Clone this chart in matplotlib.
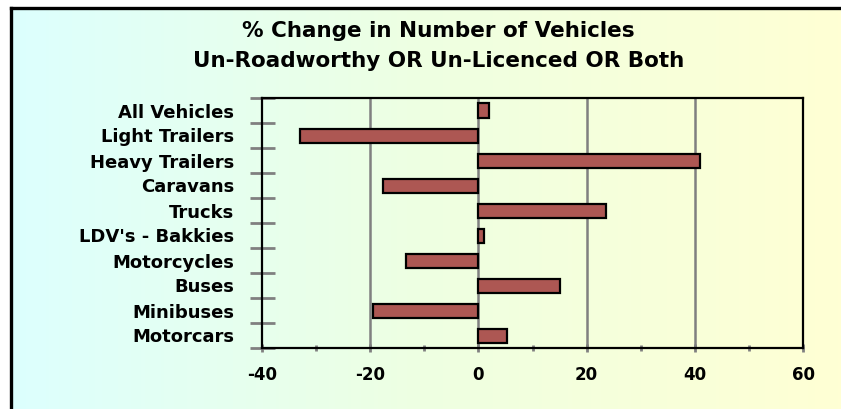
"""
% change in number of vehicles (un-roadworthy or un-licenced or both),
Excel-style horizontal bar chart on a cyan-to-yellow gradient.
"""

import matplotlib
matplotlib.use("Agg")
import matplotlib.pyplot as plt
import numpy as np
from matplotlib.colors import LinearSegmentedColormap
from matplotlib.lines import Line2D

categories = [
    "Motorcars", "Minibuses", "Buses", "Motorcycles", "LDV's - Bakkies",
    "Trucks", "Caravans", "Heavy Trailers", "Light Trailers", "All Vehicles",
]
pct_change = [5.3, -19.4, 15.1, -13.3, 1.0, 23.6, -17.6, 40.9, -32.9, 2.0]

x_ticks = [-40, -20, 0, 20, 40, 60]
x_minor = [-30, -10, 10, 30, 50]

TITLE = "% Change in Number of Vehicles\nUn-Roadworthy OR Un-Licenced OR Both"

C_BAR = "#ad5753"
C_GRID = "#808080"
FONT = "DejaVu Sans"


def main():
    plt.rcParams["font.family"] = [FONT]
    fig = plt.figure(figsize=(8.41, 4.09), dpi=100)

    # gradient background over the whole figure
    bg = fig.add_axes([0, 0, 1, 1], zorder=-10)
    cmap = LinearSegmentedColormap.from_list(
        "bg", ["#dcffff", "#eeffe2", "#ffffd4"])
    bg.imshow(np.linspace(0, 1, 256)[None, :], cmap=cmap, aspect="auto",
              extent=[0, 1, 0, 1])
    bg.set_xlim(0, 1)
    bg.set_ylim(0, 1)
    bg.axis("off")

    # white margin + black border on left and top (chart is cropped right/bottom)
    W, H = 841, 409
    bx, by = 10.5 / W, 1 - 7.5 / H
    bg.axvspan(0, bx, color="white", zorder=1)
    bg.axhspan(by, 1, color="white", zorder=1)
    fig.add_artist(Line2D([bx, bx], [0, by], color="black", lw=2.4,
                          transform=fig.transFigure))
    fig.add_artist(Line2D([bx, 1], [by, by], color="black", lw=2.4,
                          transform=fig.transFigure))

    ax = fig.add_axes([261.7 / W, 1 - 348 / H, (803.3 - 261.7) / W,
                       (348 - 98) / H])
    ax.set_facecolor("none")

    y = np.arange(len(categories))
    ax.barh(y, pct_change, height=0.56, color=C_BAR, edgecolor="black",
            linewidth=1.6, zorder=3)

    ax.set_xlim(-40, 60)
    ax.set_ylim(-0.5, len(categories) - 0.5)

    ax.set_xticks(x_ticks)
    ax.set_xticklabels([str(v) for v in x_ticks], fontsize=12,
                       fontweight="bold")
    ax.set_xticks(x_minor, minor=True)
    ax.set_yticks(y)
    ax.set_yticklabels(categories, fontsize=13, fontweight="bold")
    ax.set_yticks(np.arange(-0.5, len(categories)), minor=True)

    ax.tick_params(axis="x", which="major", direction="inout", length=6,
                   width=2, color=C_GRID, pad=10)
    ax.tick_params(axis="x", which="minor", direction="inout", length=5,
                   width=2, color=C_GRID)
    ax.tick_params(axis="y", which="major", length=0, pad=20)
    ax.tick_params(axis="y", which="minor", direction="inout", length=18,
                   width=2, color=C_GRID)

    for v in x_ticks[1:-1]:
        ax.axvline(v, color=C_GRID, lw=1.8, zorder=1)

    for spine in ax.spines.values():
        spine.set_edgecolor("black")
        spine.set_linewidth(1.6)

    fig.text(0.521, 1 - 46 / H, TITLE, ha="center", va="center",
             fontsize=15.5, fontweight="bold", linespacing=1.65)

    fig.savefig("out.png", dpi=100)
    plt.close(fig)


if __name__ == "__main__":
    main()
